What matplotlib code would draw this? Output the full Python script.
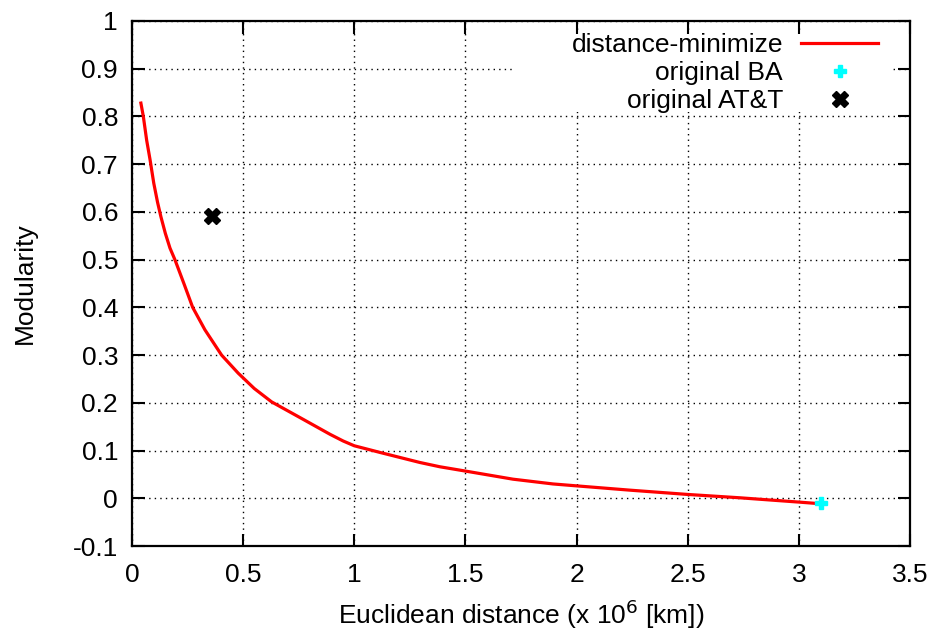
import matplotlib
matplotlib.use("Agg")
import matplotlib.pyplot as plt
from matplotlib.patches import Rectangle

plt.rcParams['font.family'] = ['Liberation Sans', 'DejaVu Sans']

# distance-minimize curve
dist_x = [0.040, 0.051, 0.066, 0.081, 0.098, 0.115, 0.130, 0.150, 0.171, 0.193,
          0.235, 0.273, 0.328, 0.403, 0.478, 0.55, 0.628, 0.756, 0.891, 0.950,
          1.00, 1.116, 1.295, 1.385, 1.50, 1.714, 1.894, 2.00, 2.24, 2.50,
          2.735, 3.00, 3.07]
dist_y = [0.828, 0.800, 0.750, 0.710, 0.660, 0.620, 0.590, 0.555, 0.524, 0.500,
          0.448, 0.400, 0.353, 0.300, 0.262, 0.230, 0.202, 0.169, 0.134, 0.120,
          0.110, 0.096, 0.075, 0.066, 0.057, 0.040, 0.030, 0.026, 0.017, 0.008,
          0.001, -0.008, -0.0105]

ba_x, ba_y = [3.10], [-0.0105]
att_x, att_y = [0.36], [0.592]

xticks = [0, 0.5, 1, 1.5, 2, 2.5, 3, 3.5]
yticks = [-0.1, 0, 0.1, 0.2, 0.3, 0.4, 0.5, 0.6, 0.7, 0.8, 0.9, 1]

fig = plt.figure(figsize=(9.37, 6.33), dpi=100)
ax = fig.add_axes([132 / 937, 1 - 546 / 633, 778 / 937, 525 / 633])

ax.plot(dist_x, dist_y, color='#ff0000', lw=2.3, label='distance-minimize', zorder=3)
ax.plot(ba_x, ba_y, ls='none', marker='P', color='#00ffff', ms=9, label='original BA', zorder=4)
ax.plot(att_x, att_y, ls='none', marker='X', color='black', ms=11, label='original AT&T', zorder=4)

ax.set_xlim(0, 3.5)
ax.set_ylim(-0.1, 1)
ax.set_xticks(xticks)
ax.set_xticklabels(['0', '0.5', '1', '1.5', '2', '2.5', '3', '3.5'])
ax.set_yticks(yticks)
ax.set_yticklabels(['-0.1', '0', '0.1', '0.2', '0.3', '0.4', '0.5', '0.6', '0.7', '0.8', '0.9', '1'])
ax.tick_params(direction='in', length=9, width=1.5, top=True, right=True,
               labelsize=19)
ax.tick_params(axis='x', pad=12)
ax.tick_params(axis='y', pad=10)
for s in ax.spines.values():
    s.set_linewidth(1.6)

ax.grid(True, color='black', ls=(0, (1, 3)), lw=1.0)

# key area is blanked like gnuplot does
ax.add_patch(Rectangle((0.492, 0.827), 0.485, 0.148, transform=ax.transAxes,
                       facecolor='white', edgecolor='none', zorder=2))

ax.set_xlabel('Euclidean distance (x 10$^6$ [km])', fontsize=19, labelpad=8)
ax.set_ylabel('Modularity', fontsize=19, labelpad=26)

leg = ax.legend(loc='upper right', bbox_to_anchor=(1 - 32 / 778, 1 - 12 / 525),
                frameon=False, markerfirst=False, fontsize=19,
                handlelength=2.9, handletextpad=0.7, labelspacing=0.15,
                borderaxespad=0, borderpad=0, numpoints=1)
leg.set_zorder(5)

fig.savefig('out.png', dpi=100)
